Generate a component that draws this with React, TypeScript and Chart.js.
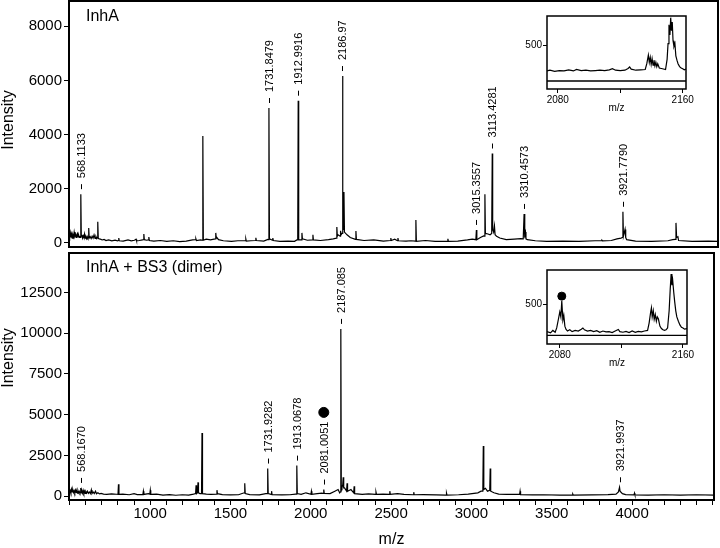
import React, { useEffect, useRef } from "react";
import { Chart, registerables } from "chart.js";

Chart.register(...registerables);

const FONT = '"Liberation Sans", Arial, Helvetica, sans-serif';

// ---------- Top spectrum: InhA ----------
const topMz = [
  495, 499, 503, 507, 511, 515, 519, 523, 527, 531, 535, 539, 543, 547, 551, 555, 559, 563, 565, 568.11,
  571, 575, 579, 583, 587, 591, 595, 599, 603, 607, 611, 614, 617, 620, 626, 632, 638, 644, 650, 656,
  662, 667, 670, 673, 676, 682, 690, 700, 712, 724, 740, 760, 780, 796, 800, 803, 806, 830, 860, 880,
  900, 910, 913, 930, 950, 955, 958, 961, 975, 986, 989, 992, 1020, 1060, 1100, 1140, 1180, 1220, 1260, 1277,
  1280, 1283, 1310, 1320, 1323, 1326, 1340, 1345, 1370, 1400, 1403, 1406, 1410, 1420, 1450, 1500, 1540, 1586, 1589, 1592,
  1620, 1648, 1651, 1654, 1700, 1725, 1729, 1731.85, 1735, 1753, 1756, 1759, 1800, 1850, 1890, 1905, 1910, 1912.99, 1916, 1933,
  1936, 1939, 1970, 2001, 2004, 2007, 2050, 2100, 2130, 2149, 2152, 2155, 2160, 2172, 2175, 2178, 2183, 2184, 2186.97, 2190,
  2193, 2196, 2199, 2215, 2235, 2267, 2270, 2273, 2320, 2380, 2440, 2483, 2486, 2489, 2510, 2527, 2530, 2533, 2580, 2610,
  2638, 2641, 2644, 2700, 2760, 2836, 2839, 2842, 2900, 2960, 2990, 3012, 3015.36, 3018, 3040, 3060, 3065, 3068, 3071, 3087,
  3100, 3110, 3113.43, 3116, 3122, 3127, 3131, 3140, 3160, 3200, 3250, 3290, 3305, 3307, 3310.46, 3313, 3316, 3319, 3322, 3330,
  3380, 3450, 3550, 3650, 3750, 3789, 3792, 3795, 3850, 3885, 3910, 3918, 3921.78, 3925, 3935, 3939, 3945, 4000, 4100, 4200,
  4230, 4245, 4250, 4254, 4262, 4266, 4350, 4450, 4510,
];
const topIntensity = [
  350, 250, 380, 200, 330, 180, 300, 220, 400, 250, 320, 200, 300, 350, 220, 280, 200, 260, 200, 1800,
  250, 300, 180, 260, 200, 330, 180, 220, 160, 240, 180, 200, 550, 180, 230, 160, 250, 180, 300, 170,
  230, 160, 200, 780, 170, 150, 140, 110, 130, 90, 110, 80, 100, 80, 90, 180, 80, 70, 110, 80,
  100, 140, 80, 90, 110, 120, 330, 120, 100, 110, 220, 90, 70, 90, 60, 80, 50, 70, 110, 120,
  150, 90, 110, 100, 3950, 100, 130, 140, 110, 150, 370, 180, 200, 120, 80, 60, 80, 80, 150, 70,
  80, 90, 190, 90, 70, 130, 120, 4980, 150, 100, 180, 90, 60, 70, 60, 110, 110, 5250, 120, 110,
  370, 150, 100, 110, 300, 110, 90, 120, 150, 180, 590, 250, 300, 250, 450, 300, 300, 350, 6160, 600,
  500, 1880, 400, 300, 200, 130, 440, 130, 90, 110, 70, 90, 180, 90, 140, 80, 180, 80, 70, 80,
  70, 850, 60, 90, 60, 60, 150, 60, 70, 110, 140, 120, 480, 120, 200, 260, 250, 1800, 350, 330,
  300, 350, 3300, 500, 400, 630, 300, 250, 180, 120, 140, 160, 150, 150, 1070, 200, 300, 400, 150, 120,
  80, 60, 70, 60, 80, 80, 100, 80, 90, 150, 180, 200, 1150, 250, 500, 200, 120, 70, 60, 80,
  120, 130, 740, 200, 230, 90, 60, 70, 60,
];
const topLabelMz = [568.1133, 1731.8479, 1912.9916, 2186.97, 3015.3557, 3113.4281, 3310.4573, 3921.779];
const topLabelIntensity = [1800, 4980, 5250, 6160, 480, 3300, 1070, 1150];
const topLabelText = ["568.1133", "1731.8479", "1912.9916", "2186.97", "3015.3557", "3113.4281", "3310.4573", "3921.7790"];
const topYTicks = [0, 2000, 4000, 6000, 8000];

// ---------- Bottom spectrum: InhA + BS3 (dimer) ----------
const bottomMz = [
  495, 499, 503, 507, 511, 515, 519, 523, 527, 531, 535, 539, 543, 547, 551, 555, 559, 563, 565, 568.17,
  571, 575, 579, 583, 587, 591, 595, 600, 605, 610, 616, 622, 628, 634, 638, 645, 652, 660, 666, 675,
  685, 695, 710, 730, 760, 790, 800, 803, 806, 830, 870, 900, 920, 955, 958, 961, 990, 998, 1001, 1004,
  1040, 1080, 1120, 1160, 1200, 1240, 1270, 1283, 1286, 1289, 1295, 1298, 1301, 1310, 1320, 1323, 1326, 1350, 1380, 1413,
  1416, 1419, 1450, 1500, 1550, 1586, 1589, 1592, 1620, 1680, 1720, 1728, 1731.93, 1735, 1753, 1756, 1759, 1820, 1870, 1905,
  1910, 1913.07, 1916, 1940, 1970, 2001, 2004, 2007, 2040, 2070, 2078, 2081.01, 2084, 2120, 2150, 2170, 2180, 2184, 2187.09, 2190,
  2194, 2199, 2202, 2205, 2210, 2223, 2226, 2229, 2250, 2267, 2270, 2273, 2320, 2360, 2403, 2406, 2409, 2450, 2489, 2492,
  2495, 2540, 2580, 2638, 2641, 2644, 2700, 2780, 2842, 2845, 2848, 2920, 2980, 3040, 3060, 3071, 3074, 3077, 3087, 3100,
  3114, 3117, 3120, 3140, 3170, 3220, 3300, 3303, 3306, 3380, 3450, 3550, 3628, 3631, 3634, 3750, 3850, 3900, 3915, 3918,
  3921.99, 3925, 3940, 3960, 4012, 4015, 4018, 4100, 4200, 4300, 4400, 4510,
];
const bottomIntensity = [
  400, 250, 350, 200, 420, 250, 380, 220, 320, 200, 360, 220, 300, 180, 330, 200, 280, 180, 220, 500,
  200, 320, 180, 350, 180, 300, 160, 280, 180, 300, 170, 250, 160, 380, 150, 250, 150, 300, 140, 200,
  130, 160, 120, 100, 140, 110, 100, 720, 100, 120, 80, 150, 90, 100, 300, 100, 150, 120, 360, 100,
  120, 60, 90, 50, 80, 60, 120, 150, 660, 150, 200, 840, 200, 150, 150, 3870, 150, 120, 100, 120,
  360, 150, 90, 70, 80, 200, 780, 150, 90, 70, 150, 150, 1690, 150, 100, 300, 90, 70, 80, 120,
  120, 1870, 150, 100, 200, 110, 300, 110, 150, 180, 160, 400, 160, 150, 300, 400, 200, 250, 10270, 600,
  500, 700, 1150, 500, 500, 300, 780, 300, 400, 200, 600, 150, 100, 140, 100, 240, 100, 120, 100, 300,
  100, 150, 100, 80, 240, 80, 90, 70, 60, 180, 60, 80, 120, 200, 300, 300, 3080, 400, 480, 300,
  350, 1690, 300, 200, 120, 100, 100, 300, 90, 70, 80, 60, 60, 120, 60, 70, 90, 120, 250, 250,
  540, 300, 150, 90, 70, 180, 70, 60, 80, 60, 80, 60,
];
const bottomLabelMz = [568.167, 1731.9282, 1913.0678, 2081.0051, 2187.085, 3921.9937];
const bottomLabelIntensity = [500, 1690, 1870, 400, 10270, 540];
const bottomLabelText = ["568.1670", "1731.9282", "1913.0678", "2081.0051", "2187.085", "3921.9937"];
const bottomDotMz = [2081.0051];
const bottomDotIntensity = [5140];
const bottomYTicks = [0, 2500, 5000, 7500, 10000, 12500];
const xTickLabels = [1000, 1500, 2000, 2500, 3000, 3500, 4000];

// ---------- Insets ----------
const insetTopMz = [
  2073, 2075, 2078, 2081, 2084, 2087, 2090, 2092, 2095, 2098, 2101, 2104, 2107, 2110, 2113, 2115, 2117, 2120, 2123, 2125,
  2126, 2127, 2130, 2133, 2136, 2137, 2138, 2138.6, 2139.2, 2139.8, 2140.4, 2141, 2141.6, 2142.2, 2142.8, 2143.4, 2144, 2145, 2147, 2149,
  2150, 2150.6, 2151.2, 2151.8, 2152.3, 2152.8, 2153.3, 2153.8, 2154.4, 2155, 2155.6, 2156.3, 2157, 2158, 2159, 2160, 2161, 2162.1,
];
const insetTopIntensity = [
  140, 150, 135, 145, 140, 155, 140, 160, 145, 150, 140, 145, 150, 145, 155, 170, 150, 145, 150, 175,
  195, 165, 150, 155, 160, 240, 360, 260, 330, 230, 310, 220, 290, 210, 260, 200, 240, 180, 170, 160,
  300, 520, 780, 640, 880, 700, 820, 560, 480, 520, 350, 290, 240, 200, 180, 170, 155, 165,
];
const insetBottomMz = [
  2071.7, 2074, 2075.5, 2077, 2078, 2079, 2080, 2080.7, 2081.3, 2082, 2082.6, 2083.3, 2084, 2085, 2086.5, 2088, 2090, 2092, 2094, 2095,
  2096, 2098, 2100, 2102, 2104, 2106, 2108, 2110, 2112, 2114, 2116, 2118, 2119, 2121, 2123, 2125, 2127, 2129, 2131, 2133,
  2135, 2137, 2138, 2139, 2139.5, 2140, 2140.7, 2141.3, 2142, 2142.7, 2143.3, 2144, 2145, 2146, 2147, 2148, 2149, 2150, 2151, 2151.7,
  2152.3, 2152.8, 2153.3, 2154, 2154.6, 2155.3, 2156, 2157, 2158, 2159, 2160, 2161, 2162.6,
];
const insetBottomIntensity = [
  60, 40, 80, 50, 120, 250, 380, 300, 560, 250, 330, 150, 100, 70, 90, 60, 80, 70, 100, 120,
  90, 70, 80, 60, 75, 50, 70, 55, 60, 45, 70, 95, 60, 50, 65, 45, 70, 50, 65, 55,
  70, 80, 200, 380, 450, 300, 400, 260, 340, 230, 300, 270, 150, 110, 90, 80, 90, 120, 400, 750,
  1000, 820, 900, 700, 550, 400, 300, 230, 170, 130, 120, 100, 110,
];
const insetBottomDotMz = [2081.3];
const insetBottomDotIntensity = [640];
const insetXTicks = [2080, 2120, 2160];
const insetXLabels = ["2080", "", "2160"];
const insetYTicks = [500];

type LabelSet = { mz: number[]; intensity: number[]; text: string[] };

function toPoints(xs: number[], ys: number[]) {
  return xs.map((x, i) => ({ x, y: ys[i] }));
}

const baseOptions = {
  animation: false,
  responsive: true,
  maintainAspectRatio: false,
  devicePixelRatio: 1,
  events: [] as string[],
  plugins: { legend: { display: false }, tooltip: { enabled: false } },
};

function noPad(s: any) {
  s.paddingTop = 0;
  s.paddingBottom = 0;
  s.paddingLeft = 0;
  s.paddingRight = 0;
}

function mainChart(
  canvas: HTMLCanvasElement,
  opts: {
    mz: number[];
    intensity: number[];
    yMin: number;
    yMax: number;
    yTicks: number[];
    showX: boolean;
    padding: any;
    panelTitle: string;
    panelTitleY: number;
    intensityY: number;
    labels: LabelSet;
    dots?: { mz: number[]; intensity: number[] };
  }
) {
  const overlay = {
    id: "overlay",
    afterDraw(chart: any) {
      const { ctx, chartArea } = chart;
      const xs = chart.scales.x;
      const ys = chart.scales.y;
      ctx.save();
      ctx.strokeStyle = "#000";
      ctx.lineWidth = 2;
      ctx.strokeRect(chartArea.left, chartArea.top, chartArea.right - chartArea.left, chartArea.bottom - chartArea.top);
      ctx.fillStyle = "#000";
      ctx.font = `16px ${FONT}`;
      ctx.textAlign = "left";
      ctx.textBaseline = "middle";
      ctx.fillText(opts.panelTitle, chartArea.left + 17, opts.panelTitleY);
      ctx.save();
      ctx.translate(9, opts.intensityY);
      ctx.rotate(-Math.PI / 2);
      ctx.textAlign = "center";
      ctx.fillText("Intensity", 0, 0);
      ctx.restore();
      if (opts.showX) {
        ctx.textAlign = "center";
        ctx.fillText("m/z", (chartArea.left + chartArea.right) / 2, chart.height - 8);
      }
      ctx.font = `11px ${FONT}`;
      ctx.lineWidth = 1;
      opts.labels.mz.forEach((m, i) => {
        const px = Math.round(xs.getPixelForValue(m)) + 0.5;
        const py = ys.getPixelForValue(opts.labels.intensity[i]);
        ctx.beginPath();
        ctx.moveTo(px, py - 10);
        ctx.lineTo(px, py - 5);
        ctx.stroke();
        ctx.save();
        ctx.translate(px, py - 16);
        ctx.rotate(-Math.PI / 2);
        ctx.textAlign = "left";
        ctx.textBaseline = "middle";
        ctx.fillText(opts.labels.text[i], 0, 0);
        ctx.restore();
      });
      ctx.restore();
    },
  };

  const datasets: any[] = [
    {
      type: "line",
      data: toPoints(opts.mz, opts.intensity),
      borderColor: "#000",
      borderWidth: 1.2,
      pointRadius: 0,
      tension: 0,
      fill: false,
    },
  ];
  if (opts.dots) {
    datasets.push({
      type: "scatter",
      data: toPoints(opts.dots.mz, opts.dots.intensity),
      pointRadius: 5,
      pointBackgroundColor: "#000",
      pointBorderColor: "#000",
      showLine: false,
    });
  }

  return new Chart(canvas, {
    type: "line",
    data: { datasets },
    options: {
      ...baseOptions,
      layout: { padding: opts.padding },
      scales: {
        x: {
          type: "linear",
          min: 495,
          max: 4510,
          display: opts.showX,
          afterFit: (s: any) => {
            s.height = opts.showX ? 48 : 0;
            noPad(s);
          },
          afterBuildTicks: (s: any) => {
            const t: any[] = [];
            for (let v = 500; v <= 4500; v += 100) t.push({ value: v });
            s.ticks = t;
          },
          border: { display: false },
          grid: { drawOnChartArea: false, drawTicks: true, tickLength: 5, color: "#000", tickColor: "#000" },
          ticks: {
            autoSkip: false,
            maxRotation: 0,
            padding: 0,
            color: "#000",
            font: { family: FONT, size: 15 },
            callback: (v: any) => (xTickLabels.includes(Number(v)) ? String(v) : ""),
          },
        },
        y: {
          type: "linear",
          min: opts.yMin,
          max: opts.yMax,
          afterFit: (s: any) => {
            s.width = 69;
            noPad(s);
          },
          afterBuildTicks: (s: any) => {
            s.ticks = opts.yTicks.map((v) => ({ value: v }));
          },
          border: { display: false },
          grid: { drawOnChartArea: false, drawTicks: true, tickLength: 5, color: "#000", tickColor: "#000" },
          ticks: {
            padding: 2,
            color: "#000",
            font: { family: FONT, size: 15 },
            callback: (v: any) => String(v),
          },
        },
      },
    } as any,
    plugins: [overlay],
  });
}

function insetChart(
  canvas: HTMLCanvasElement,
  opts: {
    mz: number[];
    intensity: number[];
    xMin: number;
    xMax: number;
    yMin: number;
    yMax: number;
    padding: any;
    xHeight: number;
    dots?: { mz: number[]; intensity: number[] };
  }
) {
  const bg = {
    id: "insetbg",
    beforeDraw(chart: any) {
      const { ctx, chartArea } = chart;
      ctx.save();
      ctx.fillStyle = "#fff";
      ctx.fillRect(chartArea.left, chartArea.top, chartArea.right - chartArea.left, chartArea.bottom - chartArea.top);
      ctx.restore();
    },
    afterDraw(chart: any) {
      const { ctx, chartArea } = chart;
      const ys = chart.scales.y;
      ctx.save();
      ctx.strokeStyle = "#000";
      ctx.lineWidth = 1.5;
      ctx.strokeRect(chartArea.left, chartArea.top, chartArea.right - chartArea.left, chartArea.bottom - chartArea.top);
      const y0 = ys.getPixelForValue(0);
      ctx.lineWidth = 1.3;
      ctx.beginPath();
      ctx.moveTo(chartArea.left, y0);
      ctx.lineTo(chartArea.right, y0);
      ctx.stroke();
      ctx.fillStyle = "#000";
      ctx.font = `10px ${FONT}`;
      ctx.textAlign = "center";
      ctx.textBaseline = "middle";
      ctx.fillText("m/z", (chartArea.left + chartArea.right) / 2, chartArea.bottom + 19);
      ctx.restore();
    },
  };
  const datasets: any[] = [
    {
      type: "line",
      data: toPoints(opts.mz, opts.intensity),
      borderColor: "#000",
      borderWidth: 1.2,
      pointRadius: 0,
      tension: 0,
    },
  ];
  if (opts.dots) {
    datasets.push({
      type: "scatter",
      data: toPoints(opts.dots.mz, opts.dots.intensity),
      pointRadius: 4,
      pointBackgroundColor: "#000",
      pointBorderColor: "#000",
      showLine: false,
    });
  }
  return new Chart(canvas, {
    type: "line",
    data: { datasets },
    options: {
      ...baseOptions,
      layout: { padding: opts.padding },
      scales: {
        x: {
          type: "linear",
          min: opts.xMin,
          max: opts.xMax,
          afterFit: (s: any) => {
            s.height = opts.xHeight;
            noPad(s);
          },
          afterBuildTicks: (s: any) => {
            s.ticks = insetXTicks.map((v) => ({ value: v }));
          },
          border: { display: false },
          grid: { drawOnChartArea: false, tickLength: 4, color: "#000", tickColor: "#000" },
          ticks: {
            autoSkip: false,
            maxRotation: 0,
            padding: 1,
            color: "#000",
            font: { family: FONT, size: 10 },
            callback: (_v: any, i: number) => insetXLabels[i],
          },
        },
        y: {
          type: "linear",
          min: opts.yMin,
          max: opts.yMax,
          afterFit: (s: any) => {
            s.width = 32;
            noPad(s);
          },
          afterBuildTicks: (s: any) => {
            s.ticks = insetYTicks.map((v) => ({ value: v }));
          },
          border: { display: false },
          grid: { drawOnChartArea: false, tickLength: 4, color: "#000", tickColor: "#000" },
          ticks: {
            padding: 1,
            color: "#000",
            font: { family: FONT, size: 10 },
            callback: (v: any) => String(v),
          },
        },
      },
    } as any,
    plugins: [bg],
  });
}

function box(left: number, top: number, w: number, h: number): React.CSSProperties {
  return { position: "absolute", left, top, width: w, height: h };
}

export default function App() {
  const topRef = useRef<HTMLCanvasElement>(null);
  const botRef = useRef<HTMLCanvasElement>(null);
  const insTopRef = useRef<HTMLCanvasElement>(null);
  const insBotRef = useRef<HTMLCanvasElement>(null);

  useEffect(() => {
    const charts: Chart[] = [];
    charts.push(
      mainChart(topRef.current!, {
        mz: topMz,
        intensity: topIntensity,
        yMin: -150,
        yMax: 8930,
        yTicks: topYTicks,
        showX: false,
        padding: { top: 1, right: 2, bottom: 3, left: 0 },
        panelTitle: "InhA",
        panelTitleY: 17,
        intensityY: 120,
        labels: { mz: topLabelMz, intensity: topLabelIntensity, text: topLabelText },
      })
    );
    charts.push(
      mainChart(botRef.current!, {
        mz: bottomMz,
        intensity: bottomIntensity,
        yMin: -242,
        yMax: 14933,
        yTicks: bottomYTicks,
        showX: true,
        padding: { top: 2, right: 2, bottom: 0, left: 0 },
        panelTitle: "InhA + BS3 (dimer)",
        panelTitleY: 21,
        intensityY: 111,
        labels: { mz: bottomLabelMz, intensity: bottomLabelIntensity, text: bottomLabelText },
        dots: { mz: bottomDotMz, intensity: bottomDotIntensity },
      })
    );
    charts.push(
      insetChart(insTopRef.current!, {
        mz: insetTopMz,
        intensity: insetTopIntensity,
        xMin: 2073.1,
        xMax: 2162.1,
        yMin: -111,
        yMax: 903,
        padding: { top: 8, right: 9, bottom: 0, left: 0 },
        xHeight: 29,
      })
    );
    charts.push(
      insetChart(insBotRef.current!, {
        mz: insetBottomMz,
        intensity: insetBottomIntensity,
        xMin: 2071.7,
        xMax: 2162.6,
        yMin: -142,
        yMax: 1067,
        padding: { top: 8, right: 8, bottom: 0, left: 0 },
        xHeight: 28,
        dots: { mz: insetBottomDotMz, intensity: insetBottomDotIntensity },
      })
    );
    return () => charts.forEach((c) => c.destroy());
  }, []);

  return (
    <div style={{ position: "absolute", left: 0, top: 0, width: 720, height: 548, background: "#fff", overflow: "hidden" }}>
      <div style={box(0, 0, 720, 250)}>
        <canvas ref={topRef} />
      </div>
      <div style={box(0, 247, 720, 301)}>
        <canvas ref={botRef} />
      </div>
      <div style={box(515, 8, 180, 110)}>
        <canvas ref={insTopRef} />
      </div>
      <div style={box(515, 262, 180, 110)}>
        <canvas ref={insBotRef} />
      </div>
    </div>
  );
}
